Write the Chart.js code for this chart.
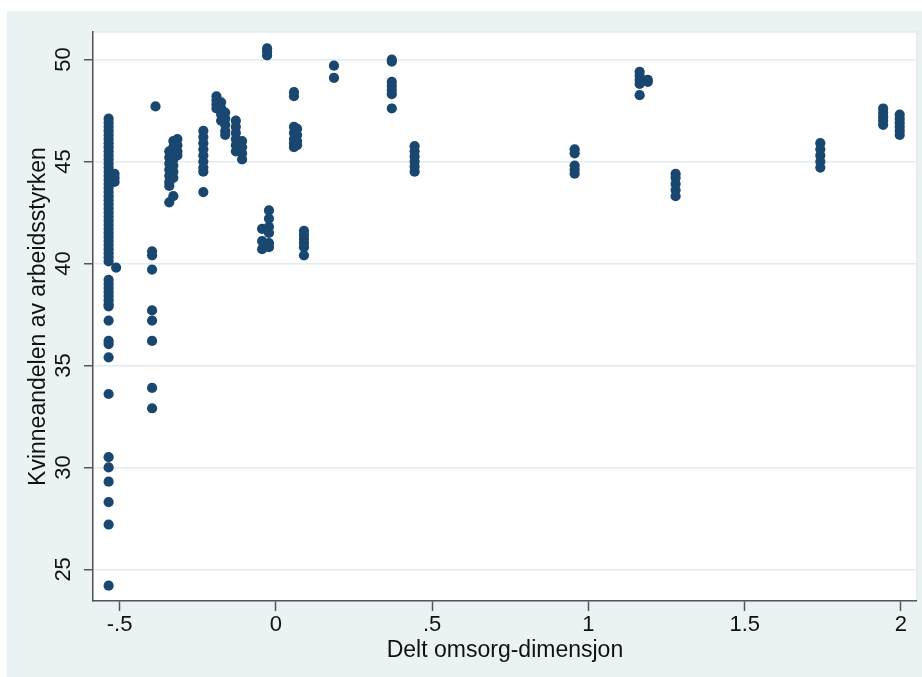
<!DOCTYPE html>
<html>
<head>
<meta charset="utf-8">
<script src="https://cdn.jsdelivr.net/npm/chart.js@4/dist/chart.umd.min.js"></script>
<style>
  html, body { margin: 0; padding: 0; background: #ffffff; }
  #wrap { width: 922px; height: 677px; }
</style>
</head>
<body>
<div id="wrap"><canvas id="chart" width="922" height="677"></canvas></div>
<script>
// x position of each column of points (Delt omsorg-dimensjon)
const colX = [
  -0.535, -0.516, -0.511, -0.396, -0.385, -0.341, -0.328, -0.315,
  -0.232, -0.19, -0.175, -0.162, -0.128, -0.108, -0.044, -0.028,
  -0.022, 0.058, 0.068, 0.09, 0.186, 0.371, 0.444, 0.956,
  1.164, 1.19, 1.279, 1.742, 1.943, 1.996
];

// y values in each column (Kvinneandelen av arbeidsstyrken)
const colY = [
  [47.1, 46.9, 46.7, 46.5, 46.3, 46.1, 45.9, 45.7, 45.5, 45.3, 45.1, 44.9,
   44.7, 44.5, 44.3, 44.1, 43.9, 43.7, 43.5, 43.3, 43.1, 42.9, 42.7, 42.5,
   42.3, 42.1, 41.9, 41.7, 41.5, 41.3, 41.1, 40.9, 40.7, 40.5, 40.3, 40.1,
   39.2, 39.0, 38.8, 38.6, 38.4, 38.2, 38.0, 37.9, 37.2, 36.2, 36.05, 35.4,
   33.6, 30.5, 30.0, 29.3, 28.3, 27.2, 24.2],
  [44.4, 44.2, 44.0],
  [39.8],
  [40.6, 40.4, 39.7, 37.7, 37.2, 36.2, 33.9, 32.9],
  [47.7],
  [45.5, 45.2, 44.9, 44.6, 44.3, 44.0, 43.8, 43.0],
  [46.0, 45.7, 45.4, 45.1, 44.8, 44.5, 44.2, 43.3],
  [46.1, 45.8, 45.5, 45.3],
  [46.5, 46.2, 45.9, 45.6, 45.3, 45.0, 44.7, 44.5, 43.5],
  [48.2, 48.0, 47.8, 47.6],
  [47.9, 47.6, 47.3, 47.0],
  [47.4, 47.1, 46.8, 46.5, 46.3],
  [47.0, 46.7, 46.4, 46.1, 45.8, 45.5],
  [46.0, 45.7, 45.4, 45.1],
  [41.7, 41.1, 40.7],
  [50.55, 50.4, 50.2],
  [42.6, 42.2, 41.8, 41.5, 41.0, 40.8],
  [48.4, 48.2, 46.7, 46.4, 46.1, 45.9, 45.7],
  [46.6, 46.3, 46.0, 45.8],
  [41.6, 41.4, 41.2, 41.0, 40.8, 40.4],
  [49.7, 49.1],
  [50.0, 49.9, 48.9, 48.7, 48.5, 48.3, 47.6],
  [45.75, 45.5, 45.25, 45.0, 44.75, 44.5],
  [45.6, 45.4, 44.8, 44.6, 44.4],
  [49.4, 49.2, 49.0, 48.8, 48.25],
  [49.0, 48.9],
  [44.4, 44.2, 43.9, 43.6, 43.3],
  [45.9, 45.6, 45.3, 45.0, 44.7],
  [47.6, 47.4, 47.2, 47.0, 46.8],
  [47.3, 47.1, 46.9, 46.7, 46.5, 46.3]
];

const xTicks = [-0.5, 0, 0.5, 1, 1.5, 2];
const yTicks = [25, 30, 35, 40, 45, 50];
const xTitle = "Delt omsorg-dimensjon";
const yTitle = "Kvinneandelen av arbeidsstyrken";

const points = [];
colX.forEach((x, i) => {
  for (const y of colY[i]) points.push({ x: x, y: y });
});

const panelColor = "#eaf2f3";
const gridColor = "#e2ebed";
const axisColor = "#555555";
const markerColor = "#1a476f";

function stataNumber(v) {
  return String(v).replace(/^(-?)0\./, "$1.");
}

const backgroundPlugin = {
  id: "background",
  beforeDraw(chart) {
    const { ctx, chartArea } = chart;
    ctx.save();
    ctx.fillStyle = "#ffffff";
    ctx.fillRect(0, 0, chart.width, chart.height);
    ctx.fillStyle = panelColor;
    ctx.fillRect(7, 11, chart.width - 7, chart.height - 11);
    ctx.fillStyle = "#ffffff";
    ctx.fillRect(chartArea.left, chartArea.top,
      chartArea.right - chartArea.left, chartArea.bottom - chartArea.top);
    ctx.strokeStyle = gridColor;
    ctx.lineWidth = 1.5;
    ctx.strokeRect(chartArea.left, chartArea.top,
      chartArea.right - chartArea.left, chartArea.bottom - chartArea.top);
    ctx.restore();
  },
  afterDraw(chart) {
    // Stata draws the y tick labels turned on their side
    const { ctx } = chart;
    const yScale = chart.scales.y;
    ctx.save();
    ctx.fillStyle = "#111111";
    ctx.font = "22px 'Liberation Sans', Arial, sans-serif";
    ctx.textAlign = "center";
    ctx.textBaseline = "middle";
    for (const t of yScale.ticks) {
      const py = yScale.getPixelForValue(t.value);
      ctx.save();
      ctx.translate(64, py);
      ctx.rotate(-Math.PI / 2);
      ctx.fillText(String(t.value), 0, 0);
      ctx.restore();
    }
    ctx.restore();
  }
};

new Chart(document.getElementById("chart"), {
  type: "scatter",
  data: {
    datasets: [{
      data: points,
      pointRadius: 5.1,
      pointHoverRadius: 5.1,
      pointBackgroundColor: markerColor,
      pointBorderColor: markerColor,
      pointBorderWidth: 0
    }]
  },
  options: {
    responsive: false,
    animation: false,
    events: [],
    layout: { padding: { top: 32, right: 2, left: 0, bottom: 0 } },
    plugins: {
      legend: { display: false },
      tooltip: { enabled: false }
    },
    scales: {
      x: {
        type: "linear",
        min: -0.585,
        max: 2.051,
        afterBuildTicks(scale) {
          scale.ticks = xTicks.map((v) => ({ value: v }));
        },
        afterFit(scale) {
          scale.height = 76;
        },
        ticks: {
          autoSkip: false,
          maxRotation: 0,
          padding: 1,
          color: "#111111",
          font: { family: "'Liberation Sans', Arial, sans-serif", size: 22 },
          callback: (v) => stataNumber(v)
        },
        grid: {
          drawOnChartArea: false,
          drawTicks: true,
          tickLength: 10,
          tickColor: axisColor,
          tickWidth: 1.5
        },
        border: { display: true, color: axisColor, width: 1.5 },
        title: {
          display: true,
          text: xTitle,
          color: "#111111",
          font: { family: "'Liberation Sans', Arial, sans-serif", size: 23 },
          padding: { top: 0, bottom: 13 }
        }
      },
      y: {
        type: "linear",
        min: 23.45,
        max: 51.35,
        afterBuildTicks(scale) {
          scale.ticks = yTicks.map((v) => ({ value: v }));
        },
        afterFit(scale) {
          scale.width = 93;
        },
        ticks: { display: false },
        grid: {
          color: gridColor,
          lineWidth: 1.5,
          drawTicks: true,
          tickLength: 9,
          tickColor: axisColor,
          tickWidth: 1.5
        },
        border: { display: true, color: axisColor, width: 1.5 },
        title: {
          display: true,
          text: yTitle,
          color: "#111111",
          font: { family: "'Liberation Sans', Arial, sans-serif", size: 23 },
          padding: { top: 25, bottom: 0 }
        }
      }
    }
  },
  plugins: [backgroundPlugin]
});
</script>
</body>
</html>
